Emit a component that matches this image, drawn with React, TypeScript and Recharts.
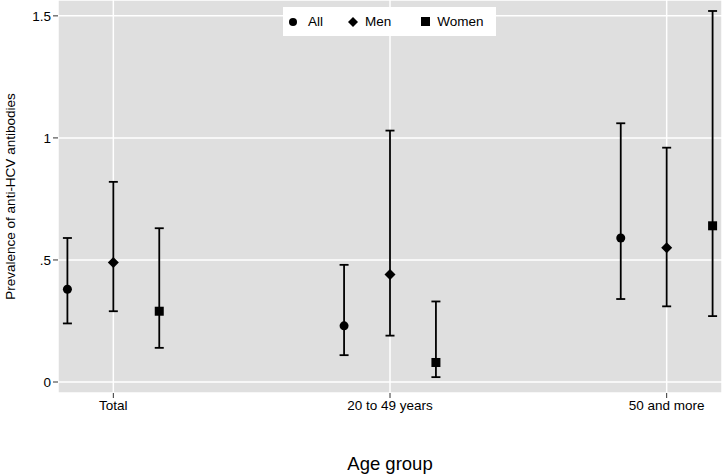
import * as React from 'react';
import { ScatterChart, Scatter, XAxis, YAxis, CartesianGrid, ErrorBar, Legend } from 'recharts';

const categories = ['Total', '20 to 49 years', '50 and more'];
const yTicks = [0, 0.5, 1, 1.5];
const yTickLabels = ['0', '.5', '1', '1.5'];

const allVals = [0.38, 0.23, 0.59];
const allLow = [0.24, 0.11, 0.34];
const allHigh = [0.59, 0.48, 1.06];

const menVals = [0.49, 0.44, 0.55];
const menLow = [0.29, 0.19, 0.31];
const menHigh = [0.82, 1.03, 0.96];

const womenVals = [0.29, 0.08, 0.64];
const womenLow = [0.14, 0.02, 0.27];
const womenHigh = [0.63, 0.33, 1.52];

const font = '"Liberation Sans", Arial, Helvetica, sans-serif';

function build(vals: number[], low: number[], high: number[], shift: number) {
    return vals.map((v, i) => ({
        x: i + shift,
        y: v,
        err: [v - low[i], high[i] - v],
    }));
}

const allData = build(allVals, allLow, allHigh, -0.166);
const menData = build(menVals, menLow, menHigh, 0);
const womenData = build(womenVals, womenLow, womenHigh, 0.166);

const Circle = (p: any) => <circle cx={p.cx} cy={p.cy} r={4.5} fill="#000" />;
const Diamond = (p: any) => (
    <polygon points={`${p.cx},${p.cy - 5.5} ${p.cx + 5.5},${p.cy} ${p.cx},${p.cy + 5.5} ${p.cx - 5.5},${p.cy}`} fill="#000" />
);
const Square = (p: any) => <rect x={p.cx - 4.5} y={p.cy - 4.5} width={9} height={9} fill="#000" />;

const LegendBox = () => (
    <div style={{
        position: 'absolute', left: 283, top: 7, width: 213, height: 29, background: '#fff',
        fontFamily: font, fontSize: 13.5, color: '#000', display: 'flex', alignItems: 'center',
    }}>
        <svg width={10} height={10} style={{ marginLeft: 5 }}><circle cx={5} cy={5} r={4} fill="#000" /></svg>
        <span style={{ marginLeft: 10 }}>All</span>
        <svg width={10} height={10} style={{ marginLeft: 25 }}><polygon points="5,0 10,5 5,10 0,5" fill="#000" /></svg>
        <span style={{ marginLeft: 7 }}>Men</span>
        <svg width={9} height={9} style={{ marginLeft: 30 }}><rect x={0} y={0} width={9} height={9} fill="#000" /></svg>
        <span style={{ marginLeft: 7 }}>Women</span>
    </div>
);

export default function App() {
    return (
        <div style={{ position: 'absolute', left: 0, top: 0 }}>
            <ScatterChart width={722} height={474} margin={{ top: 0, right: 0, bottom: 0, left: 0 }}>
                <CartesianGrid fill="#dfdfdf" stroke="#fff" strokeWidth={1.5} />
                <XAxis
                    type="number"
                    dataKey="x"
                    domain={[-0.2, 2.2]}
                    ticks={[0, 1, 2]}
                    tickFormatter={(v: number) => categories[v]}
                    allowDataOverflow
                    axisLine={false}
                    tickLine={{ stroke: '#333' }}
                    tickSize={5}
                    height={81}
                    tick={{ fontFamily: font, fontSize: 13.5, fill: '#000' }}
                    label={{ value: 'Age group', position: 'insideBottom', offset: 4, fontFamily: font, fontSize: 18.5, fill: '#000' }}
                />
                <YAxis
                    type="number"
                    dataKey="y"
                    domain={[-0.045, 1.565]}
                    ticks={yTicks}
                    tickFormatter={(v: number) => yTickLabels[yTicks.indexOf(v)]}
                    allowDataOverflow
                    axisLine={false}
                    tickLine={{ stroke: '#333' }}
                    tickSize={5}
                    width={58}
                    tick={{ fontFamily: font, fontSize: 13.5, fill: '#000' }}
                    label={{ value: 'Prevalence of anti-HCV antibodies', angle: -90, position: 'insideLeft', offset: 0, dx: 10, fontFamily: font, fontSize: 13.5, fill: '#000', style: { textAnchor: 'middle' } }}
                />
                <Legend content={<LegendBox />} wrapperStyle={{ position: 'absolute', left: 0, top: 0, width: 0, height: 0 }} />
                <Scatter name="All" data={allData} shape={Circle} isAnimationActive={false}>
                    <ErrorBar dataKey="err" direction="y" width={4.5} stroke="#000" strokeWidth={1.8} isAnimationActive={false} />
                </Scatter>
                <Scatter name="Men" data={menData} shape={Diamond} isAnimationActive={false}>
                    <ErrorBar dataKey="err" direction="y" width={4.5} stroke="#000" strokeWidth={1.8} isAnimationActive={false} />
                </Scatter>
                <Scatter name="Women" data={womenData} shape={Square} isAnimationActive={false}>
                    <ErrorBar dataKey="err" direction="y" width={4.5} stroke="#000" strokeWidth={1.8} isAnimationActive={false} />
                </Scatter>
            </ScatterChart>
        </div>
    );
}
